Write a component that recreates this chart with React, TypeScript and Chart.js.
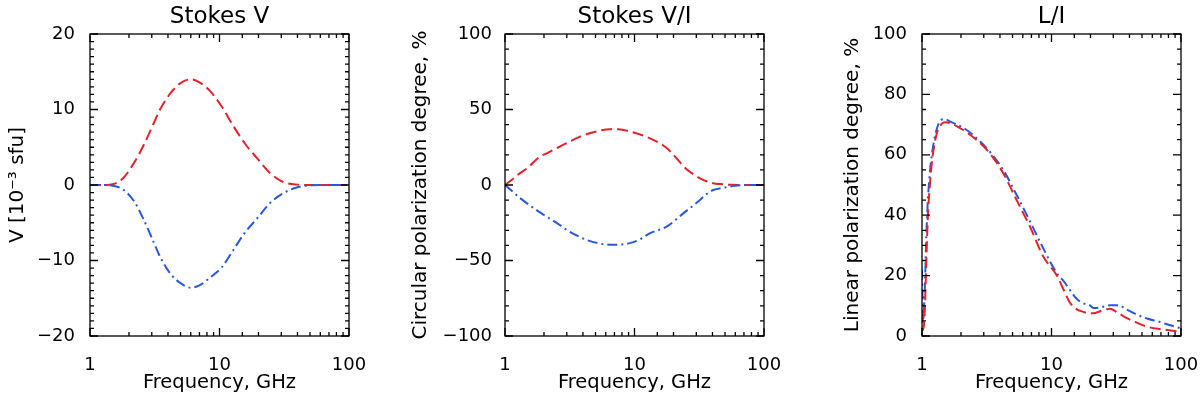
import React, { useEffect, useRef } from 'react';
import { Chart, registerables } from 'chart.js';

Chart.register(...registerables);

const FONT = '"DejaVu Sans", sans-serif';
const RED = '#e3222a';
const BLUE = '#2a58dc';

// Panel 1: Stokes V [10^-3 sfu]
const freqV = [1, 1.3, 1.5, 1.8, 2.2, 2.6, 3.0, 3.5, 4.2, 5.0, 6.0, 7.0, 8.4, 10.4, 12.8, 15.7, 19.4, 24.5, 31, 40, 50, 70, 100];
const stokesVRed = [0, 0, 0.1, 0.9, 3.0, 5.3, 7.6, 10.1, 12.2, 13.5, 14.0, 13.6, 12.5, 10.4, 7.8, 5.5, 3.6, 1.6, 0.4, 0.05, 0, 0, 0];
const stokesVBlue = [0, 0, -0.1, -0.6, -2.2, -4.6, -7.0, -9.6, -11.8, -13.0, -13.6, -13.3, -12.3, -10.9, -8.6, -6.3, -4.5, -2.4, -1.1, -0.3, -0.05, 0, 0];

// Panel 2: Stokes V/I, %
const freqVI = [1, 1.15, 1.3, 1.5, 1.85, 2.1, 2.65, 3.0, 3.8, 4.3, 5.4, 6.4, 7.5, 9.2, 11, 13.1, 17.7, 20.5, 23.8, 28, 32, 36, 40.5, 46, 55, 70, 100];
const vOverIRed = [0, 4, 7.7, 11.5, 18.7, 21, 25.4, 27.8, 32, 33.8, 36, 37, 37, 35.5, 33.5, 31, 24.5, 19, 12.5, 7.5, 4.4, 2.5, 1.2, 0.6, 0.1, 0, 0];
const vOverIBlue = [0, -4.5, -8.5, -12.5, -18, -21, -26.5, -29.8, -34.5, -36.5, -38.8, -39.5, -39.5, -38.5, -36, -32, -27.6, -23.5, -18.8, -14, -9.9, -6, -3.3, -2.2, -1.0, 0, 0];

// Panel 3: L/I, %
const freqLI = [1, 1.02, 1.05, 1.08, 1.11, 1.15, 1.2, 1.29, 1.4, 1.5, 1.65, 1.85, 2.08, 2.64, 3.34, 4.24, 5.38, 6.82, 8.64, 11, 12.5, 13.9, 15.5, 17.6, 19.5, 21.1, 24, 28.4, 33, 38.2, 45, 54.6, 68, 78, 100];
const lOverIRed = [8, 2, 8, 25, 39.5, 50, 58.5, 66.5, 70, 70.8, 70.5, 69.5, 68.2, 64.9, 60.5, 53.9, 45, 36.2, 26.3, 20, 15, 11, 9, 8, 7.5, 7.5, 8.3, 9.0, 7.5, 5.9, 4.5, 3.1, 2.3, 2.0, 1.3];
const lOverIBlue = [22, 5, 15, 33, 45, 54, 61, 68, 71.5, 71.8, 71, 70, 69, 65.5, 61, 55, 46.7, 38, 29, 20.8, 18, 15.2, 12.5, 10.8, 10.3, 9.3, 9.5, 10.2, 10.2, 8.7, 7.2, 5.8, 4.7, 3.9, 2.5];

const xTickLabels = ['1', '10', '100'];

type PanelCfg = {
  offset: number;
  yWidth: number;
  padRight: number;
  title: string;
  yTitle: string;
  yTitlePad: number;
  yLabelPad: number;
  yMin: number;
  yMax: number;
  yStep: number;
  yMinor: number;
  freq: number[];
  red: number[];
  blue: number[];
  blueOnTop: boolean;
};

const panels: PanelCfg[] = [
  {
    offset: 0, yWidth: 90, padRight: 51, title: 'Stokes V', yTitle: 'V [10⁻³ sfu]', yTitlePad: 6, yLabelPad: 7,
    yMin: -20, yMax: 20, yStep: 10, yMinor: 1, freq: freqV, red: stokesVRed, blue: stokesVBlue, blueOnTop: true,
  },
  {
    offset: 400, yWidth: 105, padRight: 36, title: 'Stokes V/I', yTitle: 'Circular polarization degree, %', yTitlePad: 9, yLabelPad: 5,
    yMin: -100, yMax: 100, yStep: 50, yMinor: 10, freq: freqVI, red: vOverIRed, blue: vOverIBlue, blueOnTop: true,
  },
  {
    offset: 800, yWidth: 122, padRight: 19, title: 'L/I', yTitle: 'Linear polarization degree, %', yTitlePad: 41, yLabelPad: 7,
    yMin: 0, yMax: 100, yStep: 20, yMinor: 5, freq: freqLI, red: lOverIRed, blue: lOverIBlue, blueOnTop: false,
  },
];

const frameTicks = {
  id: 'frameTicks',
  afterDatasetsDraw(chart: any, _args: any, opts: any) {
    const { ctx, chartArea } = chart;
    const { left, right, top, bottom } = chartArea;
    const xs = chart.scales.x;
    const ys = chart.scales.y;
    ctx.save();
    ctx.strokeStyle = '#000';
    ctx.lineWidth = 1.3;
    ctx.beginPath();
    for (const t of xs.ticks) {
      const v = t.value;
      const px = xs.getPixelForValue(v);
      if (px < left - 0.5 || px > right + 0.5) continue;
      const lg = Math.log10(v);
      const major = Math.abs(lg - Math.round(lg)) < 1e-6;
      const len = major ? 8 : 4;
      ctx.moveTo(px, bottom);
      ctx.lineTo(px, bottom - len);
      ctx.moveTo(px, top);
      ctx.lineTo(px, top + len);
    }
    const minor = opts.yMinor;
    const majorStep = opts.yMajor;
    const n = Math.round((ys.max - ys.min) / minor);
    for (let i = 0; i <= n; i++) {
      const v = ys.min + i * minor;
      const py = ys.getPixelForValue(v);
      const r = v / majorStep;
      const major = Math.abs(r - Math.round(r)) < 1e-6;
      const len = major ? 8 : 4;
      ctx.moveTo(left, py);
      ctx.lineTo(left + len, py);
      ctx.moveTo(right, py);
      ctx.lineTo(right - len, py);
    }
    ctx.stroke();
    ctx.strokeRect(left, top, right - left, bottom - top);
    ctx.restore();
  },
};

function Panel({ cfg }: { cfg: PanelCfg }) {
  const ref = useRef<HTMLCanvasElement>(null);
  useEffect(() => {
    const redPts = cfg.freq.map((f, i) => ({ x: f, y: cfg.red[i] }));
    const bluePts = cfg.freq.map((f, i) => ({ x: f, y: cfg.blue[i] }));
    const redDs = {
      data: redPts, borderColor: RED, borderWidth: 2, borderDash: [11, 5], pointRadius: 0,
      cubicInterpolationMode: 'monotone' as const, fill: false,
    };
    const blueDs = {
      data: bluePts, borderColor: BLUE, borderWidth: 2, borderDash: [10, 4, 2, 4], pointRadius: 0,
      cubicInterpolationMode: 'monotone' as const, fill: false,
    };
    const datasets = cfg.blueOnTop ? [blueDs, redDs] : [redDs, blueDs];
    const chart = new Chart(ref.current!, {
      type: 'line',
      data: { datasets },
      plugins: [frameTicks],
      options: {
        animation: false,
        responsive: false,
        devicePixelRatio: 1,
        events: [],
        layout: { padding: { left: 0, right: cfg.padRight, top: 0, bottom: 0 } },
        plugins: {
          legend: { display: false },
          tooltip: { enabled: false },
          title: { display: false },
          frameTicks: { yMinor: cfg.yMinor, yMajor: cfg.yStep },
        } as any,
        scales: {
          x: {
            type: 'logarithmic',
            position: 'bottom',
            min: 1,
            max: 100,
            grid: { display: false },
            border: { display: false },
            ticks: {
              autoSkip: false,
              maxRotation: 0,
              padding: 10.5,
              color: '#000',
              font: { family: FONT, size: 18 },
              callback: (v: any) => {
                const lg = Math.log10(Number(v));
                if (Math.abs(lg - Math.round(lg)) < 1e-6) {
                  return xTickLabels[Math.round(lg)] ?? '';
                }
                return '';
              },
            },
            title: {
              display: true,
              text: 'Frequency, GHz',
              color: '#000',
              font: { family: FONT, size: 19.5 },
              padding: { top: 0, bottom: 4.3 },
            },
            afterFit: (s: any) => {
              s.height = 63;
              s.paddingLeft = 0;
              s.paddingRight = 0;
            },
          },
          xTop: {
            type: 'linear',
            position: 'top',
            grid: { display: false },
            border: { display: false },
            ticks: { display: false },
            title: {
              display: true,
              text: cfg.title,
              color: '#000',
              font: { family: FONT, size: 23 },
              padding: { top: 3, bottom: 0 },
            },
            afterFit: (s: any) => {
              s.height = 34;
              s.paddingLeft = 0;
              s.paddingRight = 0;
            },
          },
          y: {
            type: 'linear',
            min: cfg.yMin,
            max: cfg.yMax,
            grid: { display: false },
            border: { display: false },
            ticks: {
              stepSize: cfg.yStep,
              padding: cfg.yLabelPad,
              color: '#000',
              font: { family: FONT, size: 18 },
              callback: (v: any) => (Number(v) < 0 ? '\u2212' + Math.abs(Number(v)) : String(v)),
            },
            title: {
              display: true,
              text: cfg.yTitle,
              color: '#000',
              font: { family: FONT, size: 20 },
              padding: { top: cfg.yTitlePad, bottom: 0 },
            },
            afterFit: (s: any) => {
              s.width = cfg.yWidth;
              s.paddingTop = 0;
              s.paddingBottom = 0;
            },
          },
        },
      } as any,
    });
    return () => chart.destroy();
  }, [cfg]);
  return (
    <canvas
      ref={ref}
      width={400}
      height={399}
      style={{ position: 'absolute', left: cfg.offset, top: 0, width: 400, height: 399 }}
    />
  );
}

export default function App() {
  return (
    <div style={{ position: 'fixed', left: 0, top: 0, width: 1200, height: 399, background: '#fff' }}>
      {panels.map((p) => (
        <Panel key={p.title} cfg={p} />
      ))}
    </div>
  );
}
